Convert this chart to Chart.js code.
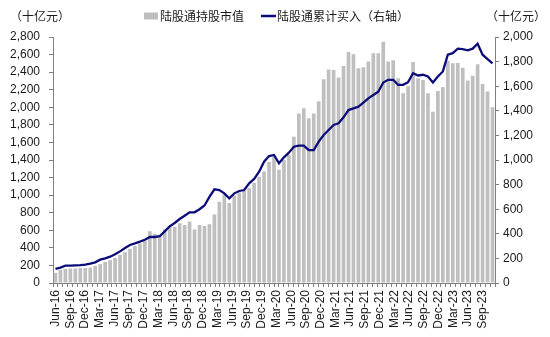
<!DOCTYPE html>
<html>
<head>
<meta charset="utf-8">
<script src="https://cdn.jsdelivr.net/npm/chart.js@4.4.1/dist/chart.umd.min.js"></script>
<style>
  html, body { margin: 0; padding: 0; background: #ffffff; }
  #wrap { width: 550px; height: 337px; position: relative; }
</style>
</head>
<body>
<div id="wrap"><canvas id="c" width="550" height="337"></canvas></div>
<script>
// Monthly observations, Jun-16 .. Oct-23
const months = [
  'Jun-16','Jul-16','Aug-16','Sep-16','Oct-16','Nov-16','Dec-16',
  'Jan-17','Feb-17','Mar-17','Apr-17','May-17','Jun-17','Jul-17','Aug-17','Sep-17','Oct-17','Nov-17','Dec-17',
  'Jan-18','Feb-18','Mar-18','Apr-18','May-18','Jun-18','Jul-18','Aug-18','Sep-18','Oct-18','Nov-18','Dec-18',
  'Jan-19','Feb-19','Mar-19','Apr-19','May-19','Jun-19','Jul-19','Aug-19','Sep-19','Oct-19','Nov-19','Dec-19',
  'Jan-20','Feb-20','Mar-20','Apr-20','May-20','Jun-20','Jul-20','Aug-20','Sep-20','Oct-20','Nov-20','Dec-20',
  'Jan-21','Feb-21','Mar-21','Apr-21','May-21','Jun-21','Jul-21','Aug-21','Sep-21','Oct-21','Nov-21','Dec-21',
  'Jan-22','Feb-22','Mar-22','Apr-22','May-22','Jun-22','Jul-22','Aug-22','Sep-22','Oct-22','Nov-22','Dec-22',
  'Jan-23','Feb-23','Mar-23','Apr-23','May-23','Jun-23','Jul-23','Aug-23','Sep-23','Oct-23'
];

// Date axis labels (one slot per month, a label every quarter)
const axisMonths = months.concat(['Nov-23']);

// 陆股通持股市值 (十亿元, left axis)
const holdings = [
  115, 150, 160, 165, 165, 170, 170,
  175, 195, 215, 240, 260, 285, 320, 350, 390, 420, 450, 480,
  590, 560, 550, 610, 650, 640, 680, 660, 700, 610, 660, 650,
  670, 780, 925, 1010, 910, 995, 1030, 1050, 1080, 1140, 1210, 1270,
  1380, 1440, 1290, 1400, 1460, 1665, 1930, 1990, 1875, 1930, 2070, 2320,
  2430, 2425, 2340, 2470, 2630, 2605, 2445, 2455, 2520, 2615, 2615, 2745,
  2520, 2535, 2330, 2160, 2240, 2515, 2330, 2310, 2160, 1950, 2185, 2230,
  2530, 2500, 2505, 2450, 2305, 2360, 2490, 2265, 2180, 2000
];

// 陆股通累计买入 (十亿元, right axis)
const cumulativeBuy = [
  114, 125, 141, 141, 144, 146, 149,
  157, 168, 190, 200, 214, 233, 257, 285, 309, 322, 336, 352,
  374, 374, 380, 420, 461, 488, 520, 547, 575, 575, 600, 630,
  700, 762, 756, 729, 688, 729, 748, 756, 810, 846, 905, 986,
  1032, 1041, 973, 1022, 1060, 1108, 1117, 1117, 1081, 1081, 1149, 1203,
  1244, 1285, 1298, 1347, 1406, 1420, 1434, 1466, 1501, 1528, 1555, 1630,
  1652, 1652, 1611, 1611, 1633, 1706, 1687, 1693, 1679, 1630, 1679, 1720,
  1856, 1869, 1905, 1902, 1891, 1905, 1945, 1856, 1820, 1786
];

const leftTicks = { min: 0, max: 2800, step: 200 };
const rightTicks = { min: 0, max: 2000, step: 200 };

const seriesNames = ['陆股通持股市值', '陆股通累计买入（右轴）'];
const unitText = '（十亿元）';

const BAR_COLOR = '#bfbfbf';
const LINE_COLOR = '#0d0d7a';
const AXIS_COLOR = '#808080';
const TEXT_COLOR = '#1a1a1a';
const NUM_FONT = { family: '"Liberation Sans", Arial, sans-serif', size: 12 };
const CJK_FAMILY = '"Noto Sans CJK SC", "Noto Sans", sans-serif';

const fmt = v => Number(v).toLocaleString('en-US');

// Legend row and unit captions drawn above the plot
const headerPlugin = {
  id: 'header',
  afterDraw(chart) {
    const ctx = chart.ctx;
    ctx.save();
    ctx.font = '12px ' + CJK_FAMILY;
    ctx.fillStyle = TEXT_COLOR;
    ctx.textBaseline = 'middle';
    const y = 16;
    // units
    ctx.textAlign = 'left';
    ctx.fillText(unitText, 10, y);
    ctx.textAlign = 'right';
    ctx.fillText(unitText, 546, y);
    // legend: bar swatch
    ctx.textAlign = 'left';
    ctx.fillStyle = BAR_COLOR;
    ctx.fillRect(144, y - 3.5, 14, 7);
    ctx.fillStyle = TEXT_COLOR;
    ctx.fillText(seriesNames[0], 160, y);
    // legend: line swatch
    ctx.strokeStyle = LINE_COLOR;
    ctx.lineWidth = 2.5;
    ctx.beginPath();
    ctx.moveTo(261, y);
    ctx.lineTo(276, y);
    ctx.stroke();
    ctx.fillText(seriesNames[1], 277, y);
    ctx.restore();
  }
};

new Chart(document.getElementById('c'), {
  type: 'bar',
  data: {
    labels: months,
    datasets: [
      {
        type: 'line',
        label: seriesNames[1],
        data: cumulativeBuy,
        xAxisID: 'x',
        yAxisID: 'y1',
        borderColor: LINE_COLOR,
        backgroundColor: LINE_COLOR,
        borderWidth: 2.3,
        pointRadius: 0,
        tension: 0,
        order: 0
      },
      {
        type: 'bar',
        label: seriesNames[0],
        data: holdings,
        xAxisID: 'x',
        yAxisID: 'y',
        backgroundColor: BAR_COLOR,
        borderWidth: 0,
        barPercentage: 0.74,
        categoryPercentage: 1.0,
        order: 1
      }
    ]
  },
  plugins: [headerPlugin],
  options: {
    responsive: false,
    animation: false,
    devicePixelRatio: 1,
    layout: { padding: { top: 37, left: 0, right: 0, bottom: 0 } },
    plugins: {
      legend: { display: false },
      tooltip: { enabled: false }
    },
    scales: {
      x: {
        type: 'category',
        offset: true,
        display: false
      },
      xDate: {
        type: 'category',
        labels: axisMonths,
        position: 'bottom',
        offset: true,
        grid: { display: true, drawOnChartArea: false, drawTicks: true, tickLength: 4, color: AXIS_COLOR, offset: true },
        border: { display: true, color: AXIS_COLOR, width: 1 },
        ticks: {
          autoSkip: false,
          minRotation: 90,
          maxRotation: 90,
          padding: 3,
          color: TEXT_COLOR,
          font: NUM_FONT,
          callback: function (value, index) {
            return index % 3 === 0 ? this.getLabelForValue(value) : '';
          }
        },
        afterFit: s => { s.height = 54; }
      },
      y: {
        position: 'left',
        min: leftTicks.min,
        max: leftTicks.max,
        grid: { display: true, drawOnChartArea: false, drawTicks: true, tickLength: 4, color: AXIS_COLOR },
        border: { display: true, color: AXIS_COLOR, width: 1 },
        ticks: { stepSize: leftTicks.step, padding: 9, color: TEXT_COLOR, font: NUM_FONT, callback: v => fmt(v) },
        afterFit: s => { s.width = 53; }
      },
      y1: {
        position: 'right',
        min: rightTicks.min,
        max: rightTicks.max,
        grid: { display: true, drawOnChartArea: false, drawTicks: true, tickLength: 4, color: AXIS_COLOR },
        border: { display: true, color: AXIS_COLOR, width: 1 },
        ticks: { stepSize: rightTicks.step, padding: 4, color: TEXT_COLOR, font: NUM_FONT, callback: v => fmt(v) },
        afterFit: s => { s.width = 55; }
      }
    }
  }
});
</script>
</body>
</html>
